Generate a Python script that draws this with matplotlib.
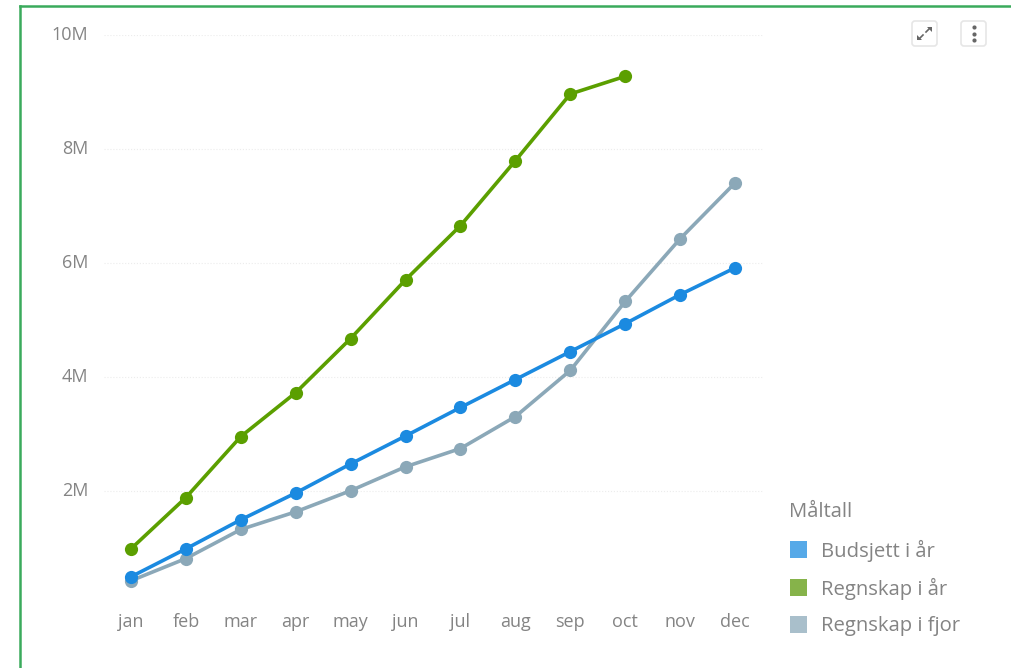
import matplotlib
matplotlib.use('Agg')
import matplotlib.pyplot as plt
from matplotlib.patches import FancyBboxPatch, Rectangle, Polygon
from matplotlib.lines import Line2D
from matplotlib.transforms import ScaledTranslation

W, H = 1011, 668
plt.rcParams['font.family'] = ['Open Sans', 'DejaVu Sans']

months = ['jan', 'feb', 'mar', 'apr', 'may', 'jun', 'jul', 'aug', 'sep', 'oct', 'nov', 'dec']
budget = [0.49, 0.98, 1.49, 1.96, 2.47, 2.96, 3.46, 3.95, 4.44, 4.93, 5.44, 5.91]
actual = [0.98, 1.88, 2.95, 3.72, 4.67, 5.70, 6.65, 7.79, 8.96, 9.27]
last_year = [0.42, 0.81, 1.32, 1.63, 2.00, 2.42, 2.74, 3.30, 4.11, 5.32, 6.42, 7.40]
yticks = [2, 4, 6, 8, 10]
ylabels = ['2M', '4M', '6M', '8M', '10M']
legend_names = ['Budsjett i år', 'Regnskap i år', 'Regnskap i fjor']

text_col = '#848484'
blue, green, grey = '#1b8ae0', '#5b9f00', '#8ba8b8'
legend_cols = ['#56a9e8', '#86b34a', '#a9bfcb']

fig = plt.figure(figsize=(W / 100, H / 100), dpi=100)
ax = fig.add_axes([103.5 / W, 1 - 604.7 / H, 659 / W, 570 / H])

# drawn last year first so blue ends up on top where they overlap
for vals, col in [(last_year, grey), (actual, green), (budget, blue)]:
    ax.plot(range(len(vals)), vals, '-o', color=col, lw=2.6, ms=9.5, mew=0, clip_on=False)

ax.set_xlim(-0.5, 11.5)
ax.set_ylim(0, 10)
ax.set_xticks(range(12), months)
ax.set_yticks(yticks, ylabels)
ax.grid(axis='y', color='#ececec', lw=0.8, ls=':')
ax.set_axisbelow(True)
ax.tick_params(length=0, labelsize=13, labelcolor=text_col)
ax.tick_params(axis='x', pad=6)
ax.tick_params(axis='y', pad=11)
for s in ax.spines.values():
    s.set_visible(False)
# y labels sit slightly above their grid lines
for lab in ax.get_yticklabels():
    lab.set_transform(lab.get_transform() + ScaledTranslation(0, 2 / 100, fig.dpi_scale_trans))


def fx(x):
    return x / W


def fy(y):
    return 1 - y / H


# green frame, only top and left are in the crop
fig.add_artist(Line2D([fx(20), fx(20)], [fy(6), 0], color='#3aaa5c', lw=1.8))
fig.add_artist(Line2D([fx(20), 1], [fy(6), fy(6)], color='#3aaa5c', lw=1.8))

# legend
fig.text(fx(789), fy(512), 'Måltall', fontsize=14.6, color=text_col, va='center')
for i, (name, col) in enumerate(zip(legend_names, legend_cols)):
    yc = 550 + i * 37.5
    fig.add_artist(Rectangle((fx(790), fy(yc + 8)), 17 / W, 17 / H, color=col, lw=0))
    fig.text(fx(821), fy(yc + 1), name, fontsize=14.6, color=text_col, va='center')

# toolbar buttons
for x0 in [912, 961]:
    fig.add_artist(FancyBboxPatch((x0, H - 46), 25, 25, boxstyle='round,pad=0,rounding_size=3',
                                  transform=None, fc='white', ec='#e6e6e6', lw=1.2))

# expand icon has no glyph in the installed fonts, so two small arrows
icon_col = '#666666'
fig.add_artist(Line2D([fx(926), fx(930)], [fy(32), fy(28)], color=icon_col, lw=1.2))
fig.add_artist(Line2D([fx(919), fx(923)], [fy(39), fy(35)], color=icon_col, lw=1.2))
fig.add_artist(Polygon([(fx(932), fy(27)), (fx(927), fy(27)), (fx(932), fy(32))],
                       transform=fig.transFigure, fc=icon_col, ec='none'))
fig.add_artist(Polygon([(fx(917), fy(40)), (fx(917), fy(35)), (fx(922), fy(40))],
                       transform=fig.transFigure, fc=icon_col, ec='none'))
for yd in [27, 34, 40]:
    fig.add_artist(Line2D([fx(973.5)], [fy(yd)], marker='o', ms=3, color=icon_col, mew=0))

fig.savefig('out.png', dpi=100)
